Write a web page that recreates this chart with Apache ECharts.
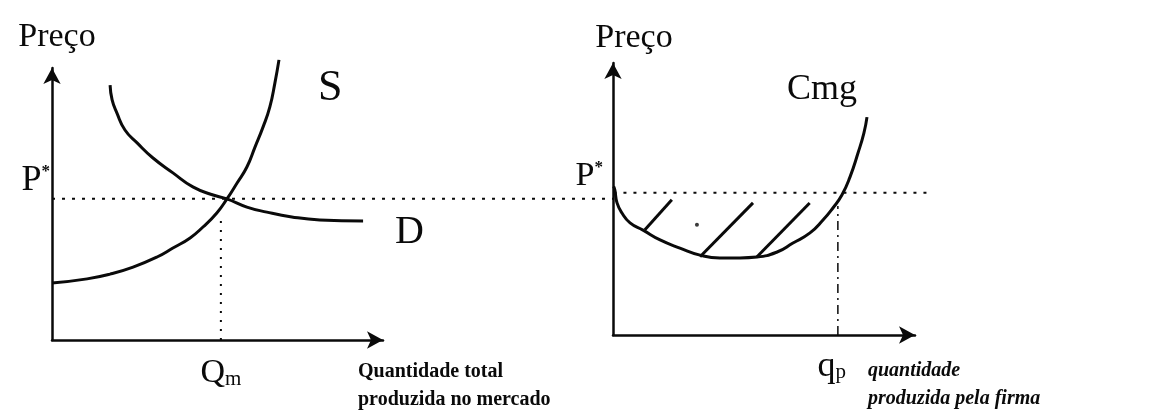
<!DOCTYPE html>
<html>
<head>
<meta charset="utf-8">
<script src="https://cdn.jsdelivr.net/npm/echarts@6/dist/echarts.min.js"></script>
<style>
  html, body { margin: 0; padding: 0; background: #fff; }
  #chart { width: 1175px; height: 417px; }
</style>
</head>
<body>
<div id="chart"></div>
<script>
// mercado (left panel)
const supplyPts = [[0, 2.03], [1.04, 2.18], [1.72, 2.35], [2.40, 2.60], [3.11, 2.96], [3.58, 3.28], [4.09, 3.64], [4.47, 4.03], [4.88, 4.53], [5.18, 5.03], [5.48, 5.60], [5.77, 6.17], [6.01, 6.88], [6.25, 7.60], [6.45, 8.31], [6.60, 9.17], [6.72, 9.99]]
const demandPts = [[1.72, 9.09], [1.78, 8.56], [1.92, 8.10], [2.16, 7.49], [2.52, 7.03], [2.99, 6.49], [3.58, 5.96], [4.17, 5.46], [4.77, 5.17], [5.18, 5.03], [5.77, 4.74], [6.36, 4.56], [7.10, 4.39], [7.93, 4.28], [9.21, 4.24]]
const pStarMarket = 5.04
const qm = 5.0
const qmTop = 4.4

// firma (right panel)
const cmgPts = [[0.02, 5.3], [0.06, 5.17], [0.13, 4.71], [0.29, 4.35], [0.55, 4.00], [0.97, 3.74], [1.52, 3.39], [2.16, 3.10], [2.81, 2.85], [3.45, 2.75], [4.10, 2.75], [4.65, 2.78], [5.30, 2.96], [5.81, 3.28], [6.36, 3.64], [6.78, 4.10], [7.10, 4.53], [7.39, 4.99], [7.65, 5.63], [7.91, 6.49], [8.10, 7.20], [8.20, 7.77]]
const pStarFirm = 5.07
const qp = 7.26
const qpTop = 4.6
const hatches = [
  [[1.03, 3.75], [1.90, 4.82]],
  [[2.81, 2.79], [4.52, 4.71]],
  [[4.65, 2.79], [6.35, 4.71]]
]
const strayDot = [[2.71, 3.93]]

// P* dotted line across both panels (overlay units)
const pStarGuideMarket = [[0, 5.04], [16.6, 5.04]]
const pStarGuideFirm = [[16.6, 5.25], [25.9, 5.25]]

const FONT = 'Liberation Serif'
const INK = '#0a0a0a'

const chart = echarts.init(document.getElementById('chart'), null, { renderer: 'canvas' })

const axisLine = { show: true, symbol: ['none', 'arrow'], symbolSize: [13, 16], lineStyle: { color: INK, width: 2.5 } }

function xAxisFor(grid, max, labelVal, labelRich, name, nameGap, nameStyle) {
  return {
    type: 'value', gridIndex: grid, min: 0, max,
    axisLine, axisTick: { show: false }, splitLine: { show: false },
    axisLabel: {
      customValues: [labelVal], margin: 16, color: INK,
      formatter: () => labelRich.text, rich: labelRich.rich
    },
    name, nameLocation: 'end', nameGap,
    nameTextStyle: nameStyle
  }
}

function yAxisFor(grid, max, pVal, pSize, margin, padLeft, nameGap) {
  return {
    type: 'value', gridIndex: grid, min: 0, max,
    axisLine, axisTick: { show: false }, splitLine: { show: false },
    axisLabel: {
      customValues: [pVal], margin, color: INK, verticalAlign: 'bottom',
      formatter: () => '{p|P}{s|*}',
      rich: {
        p: { fontFamily: FONT, fontSize: pSize, lineHeight: pSize, color: INK },
        s: { fontFamily: FONT, fontSize: 17, fontWeight: 'bold', verticalAlign: 'top', color: INK }
      }
    },
    name: 'Preço', nameLocation: 'end', nameGap,
    nameTextStyle: { fontFamily: FONT, fontSize: 34, color: INK, padding: [0, 0, 0, padLeft] }
  }
}

const curve = (name, grid, data, label, offset, size) => ({
  name, type: 'line', xAxisIndex: grid, yAxisIndex: grid, data,
  smooth: 0.5, showSymbol: false, clip: false,
  lineStyle: { color: INK, width: 3 },
  endLabel: {
    show: true, formatter: label, align: 'left', verticalAlign: 'middle', distance: 0,
    offset, fontFamily: FONT, fontSize: size, color: INK
  }
})

const guide = (grid, data, type, width) => ({
  type: 'line', xAxisIndex: grid, yAxisIndex: grid, data,
  showSymbol: false, clip: false, silent: true,
  lineStyle: { color: INK, width, type }
})

const hidden = { show: false }

chart.setOption({
  animation: false,
  backgroundColor: '#fff',
  grid: [
    { left: 52, top: 68, width: 331, height: 272 },
    { left: 613, top: 63, width: 302, height: 272 },
    { left: 52, top: 68, width: 876, height: 272 }
  ],
  xAxis: [
    xAxisFor(0, 9.8, qm, {
      text: '{q|Q}{m|m}',
      rich: { q: { fontFamily: FONT, fontSize: 34, lineHeight: 34, color: INK }, m: { fontFamily: FONT, fontSize: 21, verticalAlign: 'bottom', color: INK } }
    }, 'Quantidade total\nproduzida no mercado', -25,
    { fontFamily: FONT, fontSize: 20, fontWeight: 'bold', lineHeight: 28, color: INK, align: 'left', verticalAlign: 'top', padding: [18, 0, 0, 0] }),
    xAxisFor(1, 9.75, qp, {
      text: '{q|q}{m|p}',
      rich: { q: { fontFamily: FONT, fontSize: 36, lineHeight: 32, color: INK }, m: { fontFamily: FONT, fontSize: 21, verticalAlign: 'bottom', padding: [0, 12, 0, 0], color: INK } }
    }, 'quantidade\nproduzida pela firma', -47,
    { fontFamily: FONT, fontSize: 20, fontStyle: 'italic', fontWeight: 'bold', lineHeight: 28, color: INK, align: 'left', verticalAlign: 'top', padding: [22, 0, 0, 0] }),
    { type: 'value', gridIndex: 2, min: 0, max: 25.9, show: false, splitLine: hidden }
  ],
  yAxis: [
    yAxisFor(0, 9.7, pStarMarket, 36, 2, 10, 14),
    yAxisFor(1, 9.7, pStarFirm, 34, 10, 42, 8),
    { type: 'value', gridIndex: 2, min: 0, max: 9.7, show: false, splitLine: hidden }
  ],
  series: [
    guide(2, pStarGuideMarket, [3, 7], 2),
    guide(2, pStarGuideFirm, [3, 7], 2),
    guide(0, [[qm, 0], [qm, qmTop]], [2, 7], 2),
    guide(1, [[qp, 0], [qp, qpTop]], [9, 5, 2, 5], 1.5),
    curve('S', 0, supplyPts, 'S', [39, 29], 44),
    curve('D', 0, demandPts, 'D', [32, 11], 40),
    curve('Cmg', 1, cmgPts, 'Cmg', [-80, -28], 36),
    {
      type: 'lines', coordinateSystem: 'cartesian2d', xAxisIndex: 1, yAxisIndex: 1,
      data: hatches.map(c => ({ coords: c })),
      lineStyle: { color: INK, width: 3, opacity: 1, curveness: 0 }
    },
    {
      type: 'scatter', xAxisIndex: 1, yAxisIndex: 1, data: strayDot,
      symbolSize: 4, itemStyle: { color: INK }
    }
  ]
})
</script>
</body>
</html>
